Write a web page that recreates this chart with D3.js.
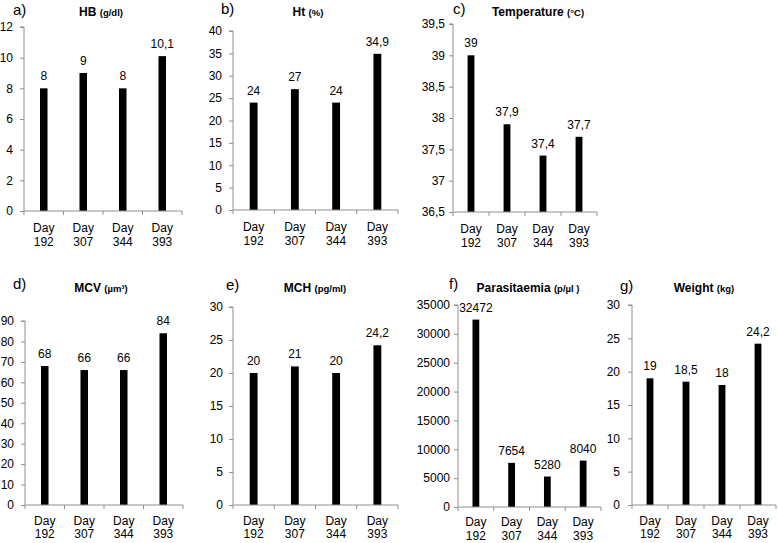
<!DOCTYPE html>
<html><head><meta charset="utf-8">
<script src="https://cdn.jsdelivr.net/npm/d3@7"></script>
<style>
body{margin:0;background:#fff}
text{font-family:"Liberation Sans",Arial,Helvetica,sans-serif}
</style>
</head><body>
<svg id="chart" width="778" height="543"></svg>
<script>
// ---------- data ----------
const dayLabels = ["192", "307", "344", "393"];
const hbValues = [8, 9, 8, 10.1];
const htValues = [24, 27, 24, 34.9];
const tempValues = [39, 37.9, 37.4, 37.7];
const mcvValues = [68, 66, 66, 84];
const mchValues = [20, 21, 20, 24.2];
const paraValues = [32472, 7654, 5280, 8040];
const weightValues = [19, 18.5, 18, 24.2];

const hbTicks = [0, 2, 4, 6, 8, 10, 12];
const htTicks = [0, 5, 10, 15, 20, 25, 30, 35, 40];
const tempTicks = [36.5, 37, 37.5, 38, 38.5, 39, 39.5];
const mcvTicks = [0, 10, 20, 30, 40, 50, 60, 70, 80, 90];
const mchTicks = [0, 5, 10, 15, 20, 25, 30];
const paraTicks = [0, 5000, 10000, 15000, 20000, 25000, 30000, 35000];
const weightTicks = [0, 5, 10, 15, 20, 25, 30];

const panelLetters = ["a)", "b)", "c)", "d)", "e)", "f)", "g)"];
const panelTitles = ["HB", "Ht", "Temperature", "MCV", "MCH", "Parasitaemia", "Weight"];
const panelUnits = ["(g/dl)", "(%)", "(°C)", "(µm³)", "(pg/ml)", "(p/µl )", "(kg)"];
const panelValues = [hbValues, htValues, tempValues, mcvValues, mchValues, paraValues, weightValues];
const panelTicks = [hbTicks, htTicks, tempTicks, mcvTicks, mchTicks, paraTicks, weightTicks];

// ---------- layout (positions only) ----------
const layout = [
  {x0: 24,  x1: 182, yTop: 27,  yBot: 211, lx: 13,  ly: 15,  tx: 101, ty: 16,  pad: 7, c1: 21, c2: 35},
  {x0: 233, x1: 398, yTop: 31,  yBot: 210, lx: 221, ly: 14,  tx: 308, ty: 16,  pad: 7, c1: 21, c2: 35},
  {x0: 453, x1: 597, yTop: 24,  yBot: 212, lx: 453, ly: 14,  tx: 538, ty: 16,  pad: 4, c1: 21, c2: 35},
  {x0: 25,  x1: 183, yTop: 321, yBot: 505, lx: 13,  ly: 289, tx: 101, ty: 292, pad: 7, c1: 20, c2: 33},
  {x0: 233, x1: 398, yTop: 307, yBot: 505, lx: 226, ly: 290, tx: 315, ty: 292, pad: 6, c1: 20, c2: 33},
  {x0: 458, x1: 601, yTop: 305, yBot: 507, lx: 449, ly: 289, tx: 528, ty: 292, pad: 4, c1: 19, c2: 33},
  {x0: 632, x1: 776, yTop: 305, yBot: 505, lx: 620, ly: 291, tx: 704, ty: 292, pad: 8, c1: 20, c2: 33}
];

const AXIS = "#8f8f8f";
const locale = d3.formatLocale({decimal: ",", thousands: "", grouping: [3], currency: ["", ""]});
const fmt = v => locale.format("")(v).replace(".", ",");

const svg = d3.select("#chart");

panelValues.forEach((vals, i) => {
  const L = layout[i];
  const ticks = panelTicks[i];
  const g = svg.append("g");

  const x = d3.scaleBand().domain(dayLabels).range([L.x0, L.x1]).padding(0);
  const y = d3.scaleLinear().domain([ticks[0], ticks[ticks.length - 1]]).range([L.yBot, L.yTop]);

  // y axis
  const yAxis = d3.axisLeft(y).tickValues(ticks).tickSize(4).tickPadding(L.pad)
    .tickFormat(d => fmt(d));
  const ya = g.append("g").attr("transform", `translate(${L.x0},0)`).call(yAxis);
  ya.select(".domain").attr("stroke", AXIS).attr("d", `M-4,${L.yTop}H0V${L.yBot}`);
  ya.selectAll(".tick line").attr("stroke", AXIS);
  ya.selectAll(".tick text").attr("fill", "#000").attr("font-size", 12)
    .attr("font-family", "'Liberation Sans',Arial,sans-serif");

  // bars
  const bw = x.bandwidth() * 0.19;
  g.selectAll("rect.bar").data(vals).join("rect")
    .attr("class", "bar")
    .attr("x", (d, j) => x(dayLabels[j]) + x.bandwidth() / 2 - bw / 2)
    .attr("width", bw)
    .attr("y", d => y(d))
    .attr("height", d => L.yBot - y(d))
    .attr("fill", "#000");

  // x axis
  const xs = [L.x0, ...dayLabels.map(d => x(d) + x.bandwidth())];
  g.append("line").attr("x1", L.x0).attr("x2", L.x1).attr("y1", L.yBot).attr("y2", L.yBot)
    .attr("stroke", AXIS);
  g.selectAll("line.xt").data(xs).join("line").attr("class", "xt")
    .attr("x1", d => d).attr("x2", d => d).attr("y1", L.yBot).attr("y2", L.yBot + 4)
    .attr("stroke", AXIS);

  // category labels
  dayLabels.forEach(d => {
    const cx = x(d) + x.bandwidth() / 2;
    g.append("text").attr("x", cx).attr("y", L.yBot + L.c1).attr("text-anchor", "middle")
      .attr("font-size", 12).text("Day");
    g.append("text").attr("x", cx).attr("y", L.yBot + L.c2).attr("text-anchor", "middle")
      .attr("font-size", 12).text(d);
  });

  // value labels
  g.selectAll("text.val").data(vals).join("text").attr("class", "val")
    .attr("x", (d, j) => x(dayLabels[j]) + x.bandwidth() / 2)
    .attr("y", d => y(d) - 8)
    .attr("text-anchor", "middle").attr("font-size", 12)
    .text(d => fmt(d));

  // panel letter
  g.append("text").attr("x", L.lx).attr("y", L.ly).attr("font-size", 15).text(panelLetters[i]);

  // title
  const t = g.append("text").attr("x", L.tx).attr("y", L.ty).attr("text-anchor", "middle")
    .attr("font-weight", "bold");
  t.append("tspan").attr("font-size", 12).text(panelTitles[i] + " ");
  t.append("tspan").attr("font-size", 9.5).text(panelUnits[i]);
});
</script>
</body></html>
